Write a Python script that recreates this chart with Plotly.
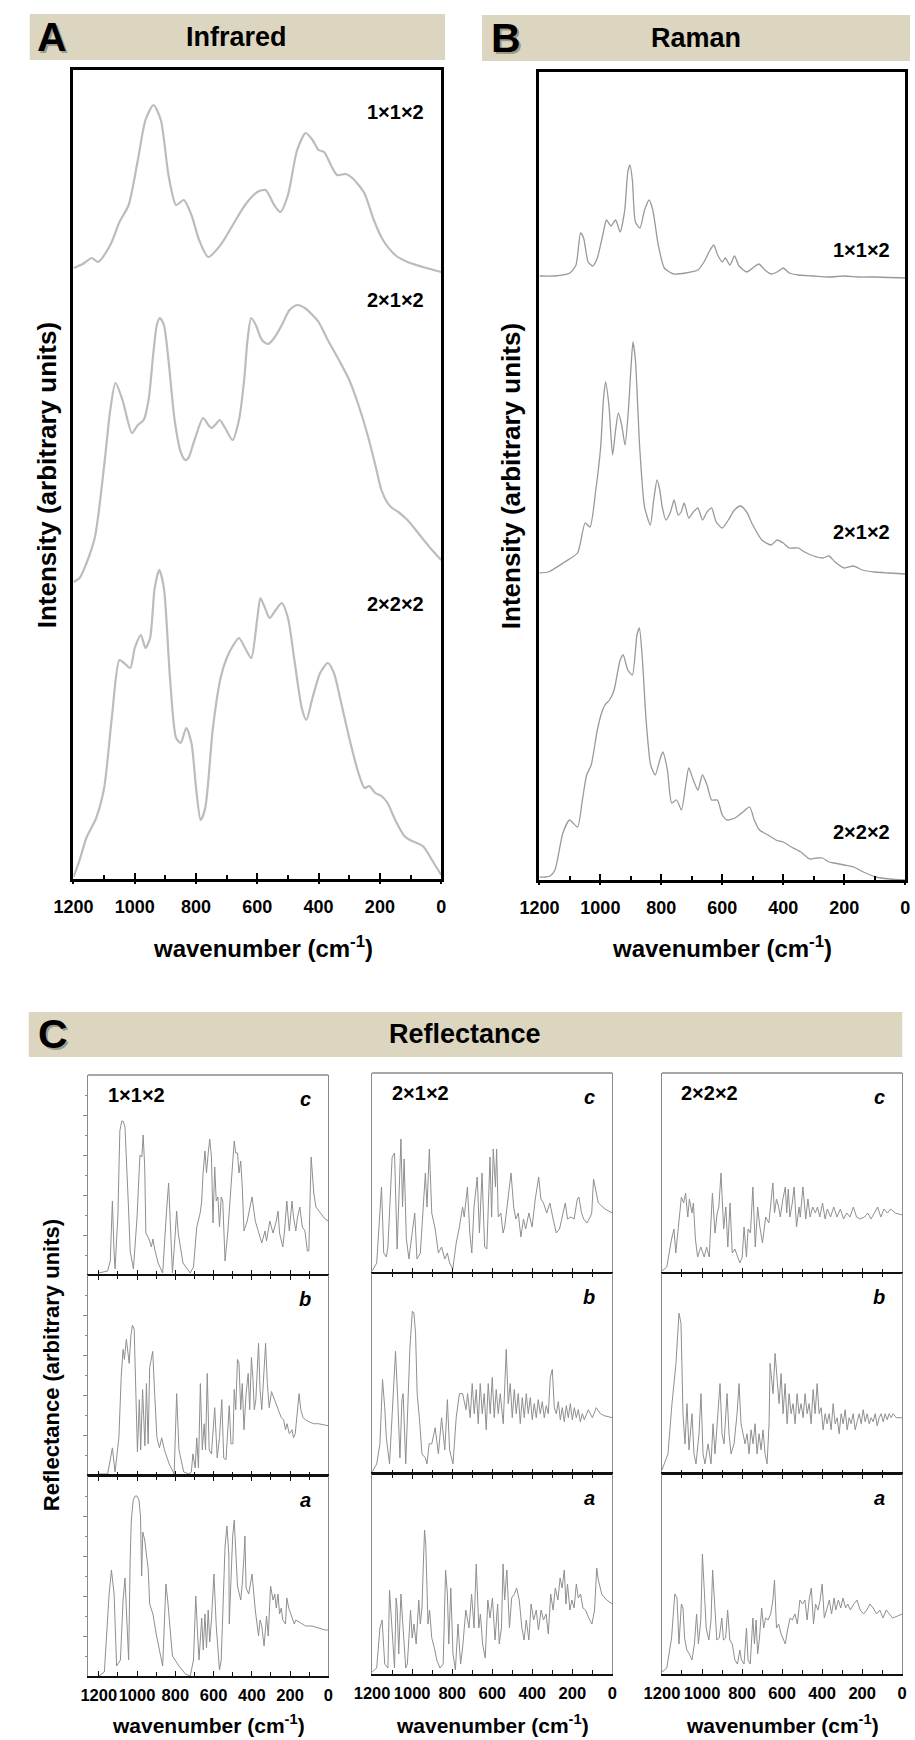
import plotly.graph_objects as go

W, H = 915, 1740
FONT = "Liberation Sans, Arial, Helvetica, sans-serif"

# ---------------- Panel A: infrared spectra (intensity, arbitrary units) ----------------
IR_WN_112 = [1200, 1170, 1140, 1120, 1080, 1050, 1020, 990, 965, 939, 915, 890, 865, 840, 815, 790, 760, 720, 680,
             640, 600, 573, 545, 525, 500, 470, 442, 420, 400, 382, 360, 340, 310, 290, 251, 220, 190, 150, 110, 60, 0]
IR_112 = [4, 8, 14, 10, 27, 50, 67, 112, 152, 167, 152, 97, 67, 72, 57, 32, 15, 27, 47, 67, 80, 82, 67, 60, 77, 122,
          139, 132, 122, 120, 107, 97, 98, 94, 79, 52, 32, 17, 10, 5, 0]

IR_WN_212 = [1200, 1180, 1160, 1130, 1099, 1080, 1063, 1040, 1009, 990, 971, 955, 940, 928, 918, 905, 890, 870, 850,
             835, 825, 805, 777, 760, 749, 735, 723, 705, 681, 660, 643, 632, 620, 605, 585, 565, 545, 520, 495, 470,
             445, 420, 400, 370, 330, 300, 270, 240, 215, 195, 175, 160, 140, 110, 70, 30, 0]
IR_212 = [0, 4, 17, 45, 119, 172, 199, 182, 149, 157, 162, 182, 227, 257, 264, 257, 222, 162, 130, 122, 124, 142, 164,
          157, 154, 158, 162, 154, 142, 162, 202, 242, 264, 257, 242, 238, 244, 257, 272, 277, 274, 267, 260, 242,
          220, 202, 177, 147, 117, 92, 79, 74, 70, 62, 47, 32, 22]

IR_WN_222 = [1200, 1180, 1158, 1126, 1100, 1075, 1050, 1035, 1015, 1000, 980, 965, 950, 935, 920, 905, 885, 865, 850,
             832, 815, 800, 785, 770, 745, 720, 700, 680, 660, 640, 620, 600, 590, 575, 560, 540, 520, 500, 480, 455,
             440, 420, 395, 370, 350, 330, 300, 270, 250, 235, 215, 195, 175, 150, 120, 102, 60, 30, 0]
IR_222 = [0, 17, 39, 59, 89, 159, 217, 214, 209, 229, 242, 229, 239, 289, 307, 289, 199, 139, 134, 149, 134, 89, 57,
          69, 149, 199, 219, 231, 239, 229, 219, 259, 279, 269, 259, 267, 274, 259, 219, 169, 157, 179, 204, 214, 204,
          179, 139, 104, 89, 91, 84, 81, 74, 57, 41, 37, 31, 17, 2]

# ---------------- Panel B: Raman spectra ----------------
RA_WN_112 = [1200, 1150, 1100, 1080, 1065, 1055, 1040, 1025, 1010, 990, 980, 965, 950, 935, 920, 910, 903, 895, 885,
             870, 855, 840, 828, 810, 790, 760, 720, 680, 660, 640, 628, 615, 600, 590, 575, 560, 545, 520, 500, 480,
             460, 440, 420, 400, 380, 350, 300, 250, 200, 150, 100, 0]
RA_112 = [0, 0, 3, 11, 43, 38, 14, 10, 18, 44, 56, 50, 56, 44, 66, 104, 111, 96, 54, 48, 66, 76, 66, 31, 8, 2, 3, 6,
          14, 26, 31, 21, 14, 18, 11, 20, 10, 4, 8, 12, 6, 2, 4, 8, 3, 1, 0, -1, 0, -1, -1, -2]

RA_WN_212 = [1200, 1171, 1117, 1075, 1050, 1034, 1015, 999, 990, 983, 972, 960, 950, 941, 930, 919, 908, 900, 893, 885,
             871, 855, 836, 825, 814, 805, 797, 785, 770, 758, 745, 735, 725, 710, 695, 680, 665, 650, 635, 620, 600,
             580, 560, 540, 520, 500, 470, 440, 420, 400, 380, 350, 330, 300, 270, 250, 230, 200, 170, 140, 100, 50, 0]
RA_212 = [0, 1, 11, 20, 50, 46, 83, 126, 173, 191, 168, 118, 143, 160, 148, 128, 163, 203, 231, 213, 126, 66, 48, 73,
          93, 83, 66, 53, 61, 73, 58, 61, 70, 55, 61, 65, 53, 61, 65, 51, 45, 53, 63, 67, 61, 48, 33, 28, 33, 30, 25,
          25, 21, 17, 15, 17, 11, 5, 7, 3, 1, 0, -1]

RA_WN_222 = [1200, 1180, 1165, 1149, 1123, 1101, 1075, 1059, 1045, 1030, 1010, 995, 985, 970, 955, 935, 925, 910, 895,
             880, 872, 862, 850, 835, 820, 805, 795, 780, 766, 750, 734, 720, 710, 695, 680, 665, 650, 635, 616, 600,
             584, 558, 532, 510, 495, 478, 450, 424, 400, 373, 342, 313, 290, 271, 250, 233, 200, 169, 137, 96, 50, 0]
RA_222 = [3, 3, 4, 10, 47, 60, 53, 80, 105, 115, 150, 168, 175, 180, 190, 220, 225, 210, 205, 245, 252, 220, 160, 115,
          105, 120, 128, 110, 77, 80, 70, 95, 112, 100, 90, 105, 95, 80, 80, 65, 60, 62, 68, 73, 60, 50, 45, 40, 38,
          33, 28, 21, 22, 22, 18, 17, 15, 13, 8, 3, 1, 0]

# ---------------- Panel C: reflectance spectra (percent of panel height) ----------------
RF_WN_112_C = [1200, 1154, 1140, 1129, 1120, 1115, 1100, 1090, 1080, 1073, 1063, 1053, 1044, 1036, 1019, 1000, 990,
               985, 975, 968, 960, 954, 943, 934, 925, 917, 908, 890, 866, 855, 846, 835, 825, 815, 803, 793, 785, 760,
               722, 705, 688, 670, 662, 655, 645, 637, 628, 620, 611, 603, 594, 586, 577, 569, 560, 552, 540, 526, 509,
               492, 484, 475, 467, 458, 450, 441, 424, 416, 399, 382, 365, 348, 331, 323, 306, 289, 272, 263, 255, 238,
               229, 217, 204, 190, 182, 170, 161, 149, 136, 122, 110, 102, 90, 76, 65, 42, 17, 0]
RF_112_C = [1, 2, 7, 37, 11, 3, 30, 72, 77, 77, 74, 54, 32, 12, 3, 29, 54, 60, 59, 70, 54, 21, 19, 17, 14, 18, 13, 6,
            1, 21, 32, 46, 21, 1, 17, 32, 21, 6, 1, 4, 24, 31, 37, 51, 62, 51, 61, 68, 59, 26, 54, 37, 39, 24, 39, 37,
            7, 21, 44, 67, 61, 61, 51, 57, 44, 22, 27, 31, 39, 27, 21, 16, 22, 17, 27, 21, 27, 32, 21, 14, 22, 37, 22,
            37, 29, 22, 29, 34, 24, 22, 12, 12, 59, 41, 34, 31, 28, 27]

RF_WN_112_B = [1200, 1154, 1129, 1115, 1095, 1083, 1073, 1066, 1056, 1049, 1041, 1032, 1024, 1015, 1007, 998, 988,
               981, 971, 959, 951, 942, 934, 925, 918, 908, 896, 883, 871, 857, 832, 806, 793, 781, 756, 730, 716, 708,
               696, 688, 679, 669, 659, 649, 642, 633, 623, 611, 594, 581, 569, 557, 547, 535, 518, 509, 499, 492, 484,
               475, 467, 458, 450, 441, 430, 419, 411, 402, 394, 387, 379, 365, 357, 348, 340, 328, 319, 309, 297, 280,
               263, 246, 234, 224, 216, 204, 190, 182, 173, 161, 153, 144, 132, 119, 102, 76, 51, 0]
RF_112_B = [1, 1, 14, 2, 19, 49, 63, 58, 68, 63, 56, 70, 75, 73, 46, 12, 38, 13, 43, 15, 46, 16, 54, 58, 62, 41, 19,
            14, 19, 13, 6, 1, 41, 13, 2, 1, 2, 11, 4, 19, 4, 46, 13, 26, 13, 51, 13, 11, 34, 9, 19, 38, 9, 8, 35, 16,
            16, 43, 33, 58, 56, 33, 46, 23, 41, 51, 33, 59, 48, 33, 38, 66, 43, 33, 49, 66, 46, 34, 42, 38, 34, 29, 28,
            23, 26, 21, 23, 19, 21, 31, 41, 33, 29, 28, 27, 26, 26, 25]

RF_WN_112_A = [1200, 1171, 1146, 1134, 1120, 1107, 1087, 1073, 1063, 1053, 1044, 1036, 1030, 1020, 1010, 1000, 990,
               982, 976, 970, 960, 950, 942, 934, 917, 900, 866, 849, 840, 815, 781, 747, 722, 705, 693, 683, 676, 662,
               654, 645, 637, 628, 620, 611, 598, 586, 569, 560, 550, 540, 530, 520, 518, 509, 500, 492, 484, 475, 458,
               450, 441, 436, 430, 416, 399, 382, 365, 357, 348, 336, 323, 314, 302, 289, 280, 272, 263, 255, 246, 238,
               224, 217, 207, 195, 178, 170, 153, 136, 119, 85, 51, 17, 0]
RF_112_A = [0, 2, 41, 53, 41, 5, 8, 38, 49, 25, 8, 58, 78, 88, 90, 90, 88, 80, 50, 72, 68, 60, 54, 36, 31, 21, 5, 46,
            38, 10, 5, 1, 0, 8, 40, 20, 8, 29, 13, 31, 14, 33, 17, 28, 51, 25, 3, 8, 40, 65, 75, 60, 26, 49, 70, 78,
            65, 45, 38, 46, 60, 70, 44, 41, 51, 33, 20, 28, 25, 15, 30, 20, 45, 38, 41, 34, 41, 31, 34, 28, 26, 39, 34,
            31, 26, 28, 27, 26, 25, 25, 24, 23, 23]

RF_WN_212_C = [1200, 1177, 1153, 1142, 1129, 1121, 1100, 1088, 1075, 1064, 1056, 1048, 1040, 1029, 1016, 1000, 987,
               976, 959, 934, 926, 914, 902, 885, 869, 853, 837, 824, 813, 797, 780, 764, 748, 740, 724, 712, 702, 691,
               675, 664, 651, 638, 627, 611, 603, 595, 584, 578, 570, 557, 546, 538, 522, 506, 493, 482, 470, 457, 444,
               433, 417, 401, 385, 368, 357, 344, 328, 312, 296, 280, 264, 248, 235, 224, 208, 191, 175, 167, 154, 143,
               127, 111, 103, 94, 86, 70, 37, 0]
RF_212_C = [1, 5, 43, 10, 8, 13, 58, 60, 12, 50, 67, 33, 57, 17, 7, 20, 30, 7, 10, 50, 33, 62, 30, 22, 10, 13, 7, 10,
            5, 2, 15, 23, 33, 28, 43, 20, 10, 33, 48, 20, 50, 13, 12, 58, 28, 62, 43, 62, 28, 30, 20, 23, 37, 50, 33,
            27, 30, 18, 27, 22, 30, 23, 37, 48, 37, 35, 30, 35, 27, 20, 22, 30, 35, 27, 28, 27, 37, 38, 30, 27, 25, 28,
            30, 47, 43, 35, 32, 30]

RF_WN_212_B = [1200, 1177, 1161, 1148, 1137, 1129, 1113, 1096, 1083, 1072, 1061, 1051, 1045, 1032, 1019, 1011, 999,
               991, 983, 975, 964, 951, 934, 926, 915, 902, 885, 869, 853, 837, 824, 813, 796, 780, 764, 748, 731, 723,
               710, 700, 690, 680, 670, 660, 650, 640, 630, 620, 610, 600, 590, 580, 570, 560, 545, 530, 520, 510, 500,
               490, 480, 470, 460, 450, 440, 430, 420, 410, 400, 390, 380, 370, 360, 350, 340, 330, 320, 310, 300, 290,
               280, 270, 260, 250, 240, 230, 220, 210, 200, 190, 180, 170, 160, 150, 140, 120, 100, 80, 60, 40, 0]
RF_212_B = [1, 5, 15, 47, 33, 18, 5, 37, 61, 37, 8, 37, 40, 5, 45, 63, 81, 80, 70, 40, 28, 10, 8, 5, 15, 15, 23, 10,
            28, 12, 37, 12, 5, 28, 40, 40, 32, 40, 28, 45, 30, 42, 25, 45, 30, 40, 22, 45, 30, 48, 28, 42, 30, 40, 25,
            62, 35, 45, 28, 42, 30, 40, 25, 38, 28, 40, 30, 38, 27, 35, 28, 37, 30, 36, 28, 34, 30, 48, 52, 33, 30, 36,
            27, 33, 26, 34, 28, 35, 27, 33, 28, 32, 26, 30, 27, 32, 28, 33, 30, 29, 28]

RF_WN_212_A = [1200, 1177, 1161, 1150, 1137, 1121, 1113, 1100, 1088, 1080, 1075, 1067, 1056, 1048, 1032, 1024, 1008,
               1000, 991, 980, 967, 959, 951, 944, 938, 932, 926, 921, 913, 902, 889, 877, 861, 845, 833, 824, 817, 807,
               796, 784, 771, 758, 748, 740, 732, 716, 703, 691, 680, 667, 659, 648, 635, 622, 611, 599, 586, 573, 565,
               554, 546, 538, 527, 514, 503, 490, 478, 465, 452, 441, 430, 417, 406, 393, 380, 369, 356, 344, 331, 320,
               308, 296, 285, 272, 261, 251, 240, 232, 224, 212, 202, 191, 180, 170, 159, 147, 134, 118, 102, 89, 78,
               70, 53, 29, 0]
RF_212_A = [1, 3, 23, 27, 5, 3, 42, 23, 3, 38, 33, 10, 40, 27, 3, 5, 32, 18, 25, 15, 37, 25, 33, 55, 72, 65, 43, 25,
            32, 18, 13, 7, 3, 5, 52, 40, 15, 43, 10, 2, 25, 5, 13, 23, 32, 23, 40, 23, 55, 23, 30, 15, 8, 37, 28, 38,
            17, 35, 15, 23, 55, 37, 52, 23, 38, 40, 43, 37, 23, 17, 27, 17, 35, 27, 32, 22, 32, 27, 30, 20, 40, 32, 43,
            37, 48, 43, 52, 35, 45, 32, 37, 33, 45, 38, 40, 33, 32, 28, 25, 32, 53, 47, 40, 37, 35]

RF_WN_222_C = [1200, 1176, 1152, 1140, 1131, 1114, 1103, 1092, 1082, 1071, 1063, 1050, 1043, 1033, 1022, 1006, 989,
               977, 964, 948, 935, 924, 916, 905, 892, 881, 871, 860, 849, 836, 823, 811, 799, 790, 778, 770, 758, 746,
               734, 722, 711, 698, 682, 666, 658, 646, 638, 628, 617, 609, 596, 584, 577, 569, 561, 549, 540, 528, 515,
               509, 496, 482, 471, 460, 447, 434, 423, 412, 398, 385, 374, 358, 342, 326, 309, 293, 277, 261, 244, 228,
               212, 188, 172, 156, 139, 123, 107, 91, 74, 58, 34, 0]
RF_222_C = [1, 3, 17, 22, 10, 27, 38, 35, 40, 28, 37, 30, 35, 17, 8, 13, 8, 13, 8, 40, 20, 30, 33, 50, 22, 33, 13, 35,
            10, 12, 8, 5, 8, 23, 8, 22, 20, 43, 13, 33, 23, 15, 28, 25, 33, 45, 30, 37, 33, 28, 37, 43, 30, 42, 28,
            35, 43, 23, 33, 28, 43, 27, 37, 28, 33, 30, 33, 28, 35, 27, 32, 28, 33, 28, 32, 27, 30, 28, 33, 28, 27, 28,
            30, 27, 30, 33, 28, 32, 30, 32, 30, 29]

RF_WN_222_B = [1200, 1170, 1150, 1130, 1115, 1105, 1095, 1085, 1075, 1065, 1050, 1040, 1030, 1015, 1005, 995, 985,
               970, 955, 945, 935, 920, 910, 900, 890, 875, 865, 855, 840, 825, 815, 805, 795, 785, 775, 765, 755, 745,
               735, 725, 715, 705, 695, 685, 675, 665, 660, 655, 645, 635, 625, 615, 605, 595, 585, 575, 565, 555, 545,
               535, 525, 515, 505, 495, 485, 475, 465, 455, 445, 435, 425, 415, 405, 395, 385, 375, 365, 355, 345, 335,
               325, 315, 305, 295, 285, 275, 265, 255, 245, 235, 225, 215, 205, 195, 185, 175, 165, 155, 145, 135, 125,
               115, 105, 95, 85, 75, 65, 55, 45, 30, 0]
RF_222_B = [2, 10, 35, 55, 80, 75, 30, 15, 35, 12, 30, 10, 5, 20, 40, 10, 5, 15, 5, 25, 10, 30, 45, 20, 15, 40, 20,
            10, 15, 30, 45, 25, 20, 15, 20, 10, 22, 15, 25, 10, 20, 12, 22, 10, 5, 25, 55, 50, 40, 60, 45, 35, 50, 30,
            45, 25, 40, 30, 35, 25, 40, 30, 35, 28, 40, 30, 35, 25, 42, 30, 45, 30, 33, 22, 30, 25, 30, 22, 35, 25, 28,
            20, 30, 25, 32, 22, 28, 25, 30, 22, 26, 30, 25, 32, 26, 30, 25, 28, 26, 30, 24, 28, 30, 26, 30, 27, 30, 28,
            30, 28, 28]

RF_WN_222_A = [1200, 1176, 1152, 1136, 1125, 1115, 1103, 1095, 1087, 1076, 1063, 1050, 1038, 1027, 1018, 1006, 998,
               990, 979, 966, 955, 947, 937, 926, 914, 901, 893, 882, 872, 861, 849, 836, 823, 811, 803, 790, 778, 770,
               759, 746, 738, 730, 722, 713, 702, 692, 682, 670, 657, 646, 638, 628, 617, 605, 592, 584, 573, 560, 549,
               536, 524, 511, 498, 486, 475, 465, 454, 443, 433, 421, 410, 400, 389, 377, 364, 353, 340, 332, 319, 307,
               296, 283, 272, 259, 242, 226, 210, 193, 177, 161, 145, 128, 112, 96, 80, 64, 48, 23, 0]
RF_222_A = [1, 3, 18, 40, 38, 15, 35, 33, 18, 12, 10, 7, 15, 30, 15, 27, 60, 42, 23, 17, 27, 52, 37, 17, 18, 28, 17,
            18, 32, 17, 15, 7, 5, 12, 7, 5, 23, 7, 5, 28, 15, 27, 10, 18, 33, 23, 28, 27, 30, 37, 47, 23, 25, 20, 17,
            15, 22, 28, 27, 30, 25, 37, 35, 37, 27, 37, 43, 25, 35, 32, 37, 45, 28, 33, 37, 30, 38, 32, 37, 33, 38, 33,
            35, 32, 35, 37, 32, 30, 32, 35, 33, 30, 32, 28, 32, 30, 28, 29, 30]

CELL_LABELS = ["1\u00d71\u00d72", "2\u00d71\u00d72", "2\u00d72\u00d72"]
ROW_LABELS = ["c", "b", "a"]
TICK_VALS = [1200, 1000, 800, 600, 400, 200, 0]
MINOR_VALS = [1100, 900, 700, 500, 300, 100]

# stacking offsets of the A and B curves (same units as the intensities)
IR_OFFSETS = [607, 297, 2]
RA_OFFSETS = [604, 307, 0]


def fx(x):
    return x / W


def fy(y):
    return 1 - y / H


def hdom(x0, x1):
    return [x0 / W, x1 / W]


def vdom(y0, y1):
    return [1 - y1 / H, 1 - y0 / H]


fig = go.Figure()
annotations = []
shapes = []


def txt(x, y, s, size, xanchor="center", yanchor="middle", angle=0, color="black", italic=False, shift=(0, 0)):
    annotations.append(dict(
        x=fx(x), y=fy(y), xref="paper", yref="paper", text=s, showarrow=False,
        xanchor=xanchor, yanchor=yanchor, textangle=angle, xshift=shift[0], yshift=shift[1],
        font=dict(family=FONT, size=size, color=color, weight="bold", style="italic" if italic else "normal")))


# ---- header bands ----
BANDS = [(10, 14, 437, 60), (475, 15, 915, 61), (9, 1012, 907, 1057)]
for x0, y0, x1, y1 in BANDS:
    shapes.append(dict(type="rect", xref="paper", yref="paper", x0=fx(x0), x1=fx(x1), y0=fy(y1), y1=fy(y0),
                       fillcolor="#dcd6c1", line=dict(width=0), layer="below"))

for letter, x, y in [("A", 33, 37), ("B", 500, 38), ("C", 34, 1034)]:
    txt(x, y, letter, 41, color="rgba(0,0,0,0.30)", shift=(2, -2))
    txt(x, y, letter, 41)
txt(223, 37, "Infrared", 27)
txt(695, 38, "Raman", 27)
txt(458, 1034, "Reflectance", 27)

# ---- panels A and B ----
A_BOX = (55, 70, 433, 879)
B_BOX = (534, 72, 910, 880)

big_x = dict(range=[1200, 0], showline=True, linecolor="black", linewidth=2.5, mirror=True,
             ticks="inside", ticklen=6, tickwidth=1.5, tickcolor="black", tickangle=0,
             tickmode="array", tickvals=TICK_VALS, ticktext=[str(v) for v in TICK_VALS],
             tickfont=dict(family=FONT, size=18, color="black", weight="bold"), ticklabelstandoff=10,
             minor=dict(tickmode="array", tickvals=MINOR_VALS, ticks="inside", ticklen=4, tickwidth=1.5,
                        tickcolor="black"),
             showgrid=False, zeroline=False)
# companion axes that carry the part of each tick that pokes out below the frame
big_x_out = dict(range=[1200, 0], showline=False, ticks="outside", ticklen=4, tickwidth=1.5, tickcolor="black",
                 tickmode="array", tickvals=TICK_VALS, showticklabels=False,
                 minor=dict(tickmode="array", tickvals=MINOR_VALS, ticks="outside", ticklen=2, tickwidth=1.5,
                            tickcolor="black"),
                 showgrid=False, zeroline=False)
big_y = dict(showline=True, linecolor="black", linewidth=2.5, mirror=True, ticks="",
             showticklabels=False, showgrid=False, zeroline=False)

layout_axes = {
    "xaxis": dict(big_x, domain=hdom(A_BOX[0], A_BOX[2]), anchor="y"),
    "yaxis": dict(big_y, domain=vdom(A_BOX[1], A_BOX[3]), range=[0, A_BOX[3] - A_BOX[1]], anchor="x"),
    "xaxis2": dict(big_x, domain=hdom(B_BOX[0], B_BOX[2]), anchor="y2"),
    "yaxis2": dict(big_y, domain=vdom(B_BOX[1], B_BOX[3]), range=[0, B_BOX[3] - B_BOX[1]], anchor="x2"),
    "xaxis12": dict(big_x_out, overlaying="x", anchor="y"),
    "xaxis13": dict(big_x_out, overlaying="x2", anchor="y2"),
}

for wn, vals, off in zip([IR_WN_112, IR_WN_212, IR_WN_222], [IR_112, IR_212, IR_222], IR_OFFSETS):
    fig.add_trace(go.Scatter(x=wn, y=[v + off for v in vals], mode="lines", xaxis="x", yaxis="y",
                             line=dict(color="#bcbcbc", width=2.2, shape="spline", smoothing=0.7),
                             showlegend=False, hoverinfo="skip"))
for wn, vals, off in zip([RA_WN_112, RA_WN_212, RA_WN_222], [RA_112, RA_212, RA_222], RA_OFFSETS):
    fig.add_trace(go.Scatter(x=wn, y=[v + off for v in vals], mode="lines", xaxis="x2", yaxis="y2",
                             line=dict(color="#999999", width=1.3, shape="spline", smoothing=0.6),
                             showlegend=False, hoverinfo="skip"))
for xa, ya in [("x12", "y"), ("x13", "y2")]:
    fig.add_trace(go.Scatter(x=[], y=[], mode="lines", xaxis=xa, yaxis=ya, showlegend=False, hoverinfo="skip"))

for lab, y in zip(CELL_LABELS, [112, 300, 604]):
    txt(417, y, lab, 20, xanchor="right")
for lab, y in zip(CELL_LABELS, [250, 532, 832]):
    txt(897, y, lab, 20, xanchor="right")

txt(28, 475, "Intensity (arbitrary units)", 26, angle=-90)
txt(505, 476, "Intensity (arbitrary units)", 26, angle=-90)
txt(250, 947, "wavenumber (cm<sup>-1</sup>)", 24)
txt(722, 947, "wavenumber (cm<sup>-1</sup>)", 24)

# ---- panel C: 3 columns x 3 rows ----
C_COLS = [(70, 317), (362, 609), (660, 907)]
C_RANGES = [[1256, 0], [1200, 0], [1200, 0]]
C_ROWS = [(1075, 1275), (1275, 1476), (1476, 1676)]
C_SHIFT = [0, -2, -2]
C_DATA = [
    [(RF_WN_112_C, RF_112_C), (RF_WN_112_B, RF_112_B), (RF_WN_112_A, RF_112_A)],
    [(RF_WN_212_C, RF_212_C), (RF_WN_212_B, RF_212_B), (RF_WN_212_A, RF_212_A)],
    [(RF_WN_222_C, RF_222_C), (RF_WN_222_B, RF_222_B), (RF_WN_222_A, RF_222_A)],
]

n = 3
for ci, (x0, x1) in enumerate(C_COLS):
    for ri, (y0, y1) in enumerate(C_ROWS):
        y0s, y1s = y0 + C_SHIFT[ci], y1 + C_SHIFT[ci]
        xa, ya = f"xaxis{n}", f"yaxis{n}"
        bottom = ri == 2
        layout_axes[xa] = dict(
            domain=hdom(x0, x1), range=C_RANGES[ci], anchor=f"y{n}",
            showline=True, linecolor="#111111", linewidth=(2 if bottom else 1.2),
            mirror=("ticks" if ri > 0 else False),
            ticks="inside", ticklen=5, tickwidth=1.2, tickcolor="#111111", tickangle=0,
            tickmode="array", tickvals=TICK_VALS, ticktext=[str(v) for v in TICK_VALS],
            showticklabels=bottom, ticklabelstandoff=3,
            tickfont=dict(family=FONT, size=16.5, color="black", weight="bold"),
            minor=dict(tickmode="array", tickvals=MINOR_VALS, ticks="inside", ticklen=4, tickwidth=1.2,
                       tickcolor="#111111"),
            showgrid=False, zeroline=False)
        ycfg = dict(domain=vdom(y0s, y1s), range=[0, 100], anchor=f"x{n}",
                    showline=True, linecolor="#8a8a8a", linewidth=1.3, mirror=True,
                    showticklabels=False, showgrid=False, zeroline=False)
        if ci == 0:
            ycfg.update(ticks="outside", ticklen=4, tickwidth=1, tickcolor="#8a8a8a",
                        tickmode="array", tickvals=[20, 40, 60, 80],
                        minor=dict(tickmode="array", tickvals=[10, 30, 50, 70, 90], ticks="outside",
                                   ticklen=2, tickwidth=1, tickcolor="#8a8a8a"))
        else:
            ycfg.update(ticks="")
        layout_axes[ya] = ycfg
        wn, vals = C_DATA[ci][ri]
        fig.add_trace(go.Scatter(x=wn, y=vals, mode="lines", xaxis=f"x{n}", yaxis=f"y{n}",
                                 line=dict(color="#8f8f8f", width=1), showlegend=False, hoverinfo="skip"))
        if ri == 0:
            shapes.append(dict(type="line", xref="paper", yref="paper", x0=fx(x0), x1=fx(x1),
                               y0=fy(y0s), y1=fy(y0s), line=dict(color="#8a8a8a", width=1.3)))
            txt(x0 + 18, y0s + 20, CELL_LABELS[ci], 20, xanchor="left")
        txt(x1 - 16, y0s + 24, ROW_LABELS[ri], 20, xanchor="right", italic=True)
        n += 1
    txt((x0 + x1) / 2, 1724, "wavenumber (cm<sup>-1</sup>)", 21)

txt(32, 1365, "Reflectance (arbitrary units)", 22, angle=-90)

fig.update_layout(
    width=W, height=H, margin=dict(l=0, r=0, t=0, b=0),
    paper_bgcolor="white", plot_bgcolor="white",
    showlegend=False, annotations=annotations, shapes=shapes,
    **layout_axes)

fig.write_html("out.html")
